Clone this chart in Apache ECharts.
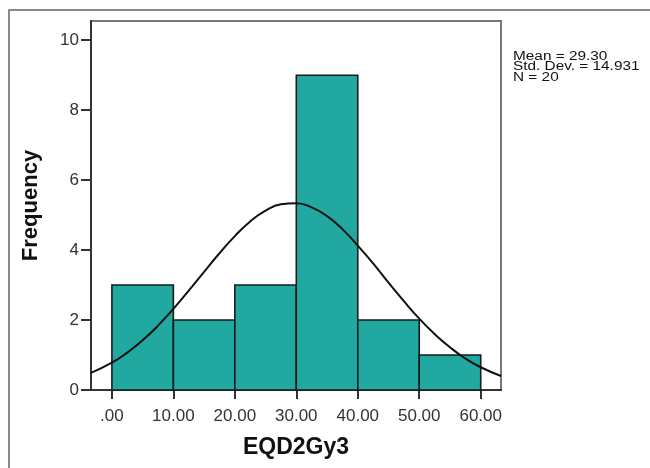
<!DOCTYPE html>
<html>
<head>
<meta charset="utf-8">
<script src="https://cdn.jsdelivr.net/npm/echarts@6/dist/echarts.min.js"></script>
<style>html,body{margin:0;padding:0;background:#fff;}#c{width:650px;height:468px;}</style>
</head>
<body>
<div id="c"></div>
<script>
// Histogram bins (EQD2Gy3) and frequencies
const binStarts = [0, 10, 20, 30, 40, 50];
const binWidth = 10;
const counts = [3, 2, 3, 9, 2, 1];
const xTicks = [0, 10, 20, 30, 40, 50, 60];
const yTicks = [0, 2, 4, 6, 8, 10];
// Normal curve points (x, frequency)
const curveX = [-3.4, 0, 2.5, 5, 7.5, 10, 12.5, 15, 17.5, 20, 22.5, 25, 27.5, 30, 32.5, 35, 37.5, 40, 42.5, 45, 47.5, 50, 52.5, 55, 57.5, 60, 63.3];
const curveY = [0.49, 0.78, 1.07, 1.42, 1.84, 2.32, 2.84, 3.38, 3.91, 4.40, 4.82, 5.13, 5.31, 5.34, 5.22, 4.97, 4.60, 4.13, 3.62, 3.07, 2.54, 2.04, 1.60, 1.22, 0.90, 0.65, 0.40];
const statsLines = ['Mean = 29.30', 'Std. Dev. = 14.931', 'N = 20'];

const chart = echarts.init(document.getElementById('c'), null, {renderer: 'canvas'});
const font = '"Liberation Sans", Arial, sans-serif';

const option = {
  animation: false,
  grid: {left: 91, right: 149, top: 21, bottom: 78, show: true, borderColor: '#777', borderWidth: 2, backgroundColor: 'transparent'},
  xAxis: {
    type: 'value', min: -3.4, max: 63.3,
    name: 'EQD2Gy3', nameLocation: 'middle', nameGap: 46,
    nameTextStyle: {fontFamily: font, fontWeight: 'bold', fontSize: 23, color: '#111'},
    axisLine: {show: true, onZero: false, lineStyle: {color: '#333', width: 2}},
    axisTick: {show: true, inside: false, length: 9, customValues: xTicks, lineStyle: {color: '#333', width: 2}},
    axisLabel: {customValues: xTicks, margin: 18, fontFamily: font, fontSize: 17, color: '#333',
      formatter: v => v === 0 ? '.00' : v.toFixed(2)},
    splitLine: {show: false}
  },
  yAxis: {
    type: 'value', min: 0, max: 10.55,
    name: 'Frequency', nameLocation: 'middle', nameGap: 49, nameRotate: 90,
    nameTextStyle: {fontFamily: font, fontWeight: 'bold', fontSize: 22, color: '#111'},
    axisLine: {show: true, onZero: false, lineStyle: {color: '#333', width: 2}},
    axisTick: {show: true, inside: false, length: 10, customValues: yTicks, lineStyle: {color: '#333', width: 2}},
    axisLabel: {customValues: yTicks, margin: 12, fontFamily: font, fontSize: 17, color: '#333'},
    splitLine: {show: false}
  },
  series: [
    {
      type: 'custom',
      data: binStarts.map((s, i) => [s, s + binWidth, counts[i]]),
      renderItem: function (params, api) {
        const p0 = api.coord([api.value(0), 0]);
        const p1 = api.coord([api.value(1), api.value(2)]);
        return {
          type: 'rect',
          shape: {x: p0[0], y: p1[1], width: p1[0] - p0[0], height: p0[1] - p1[1]},
          style: {fill: '#21a8a0', stroke: '#1a1a1a', lineWidth: 1.6}
        };
      },
      z: 2
    },
    {
      type: 'line',
      data: curveX.map((x, i) => [x, curveY[i]]),
      smooth: true,
      showSymbol: false,
      lineStyle: {color: '#111', width: 2},
      clip: true,
      z: 3
    }
  ],
  graphic: [
    {type: 'polyline', shape: {points: [[9, 468], [9, 10], [650, 10]]}, style: {stroke: '#666', lineWidth: 1.5, fill: null}, silent: true},
    {type: 'text', x: 513, y: 51, scaleX: 1.28,
      style: {text: statsLines.join('\n'), fontFamily: font, fontSize: 12, lineHeight: 10.5, fill: '#111', textVerticalAlign: 'top'}}
  ]
};
chart.setOption(option);
</script>
</body>
</html>
